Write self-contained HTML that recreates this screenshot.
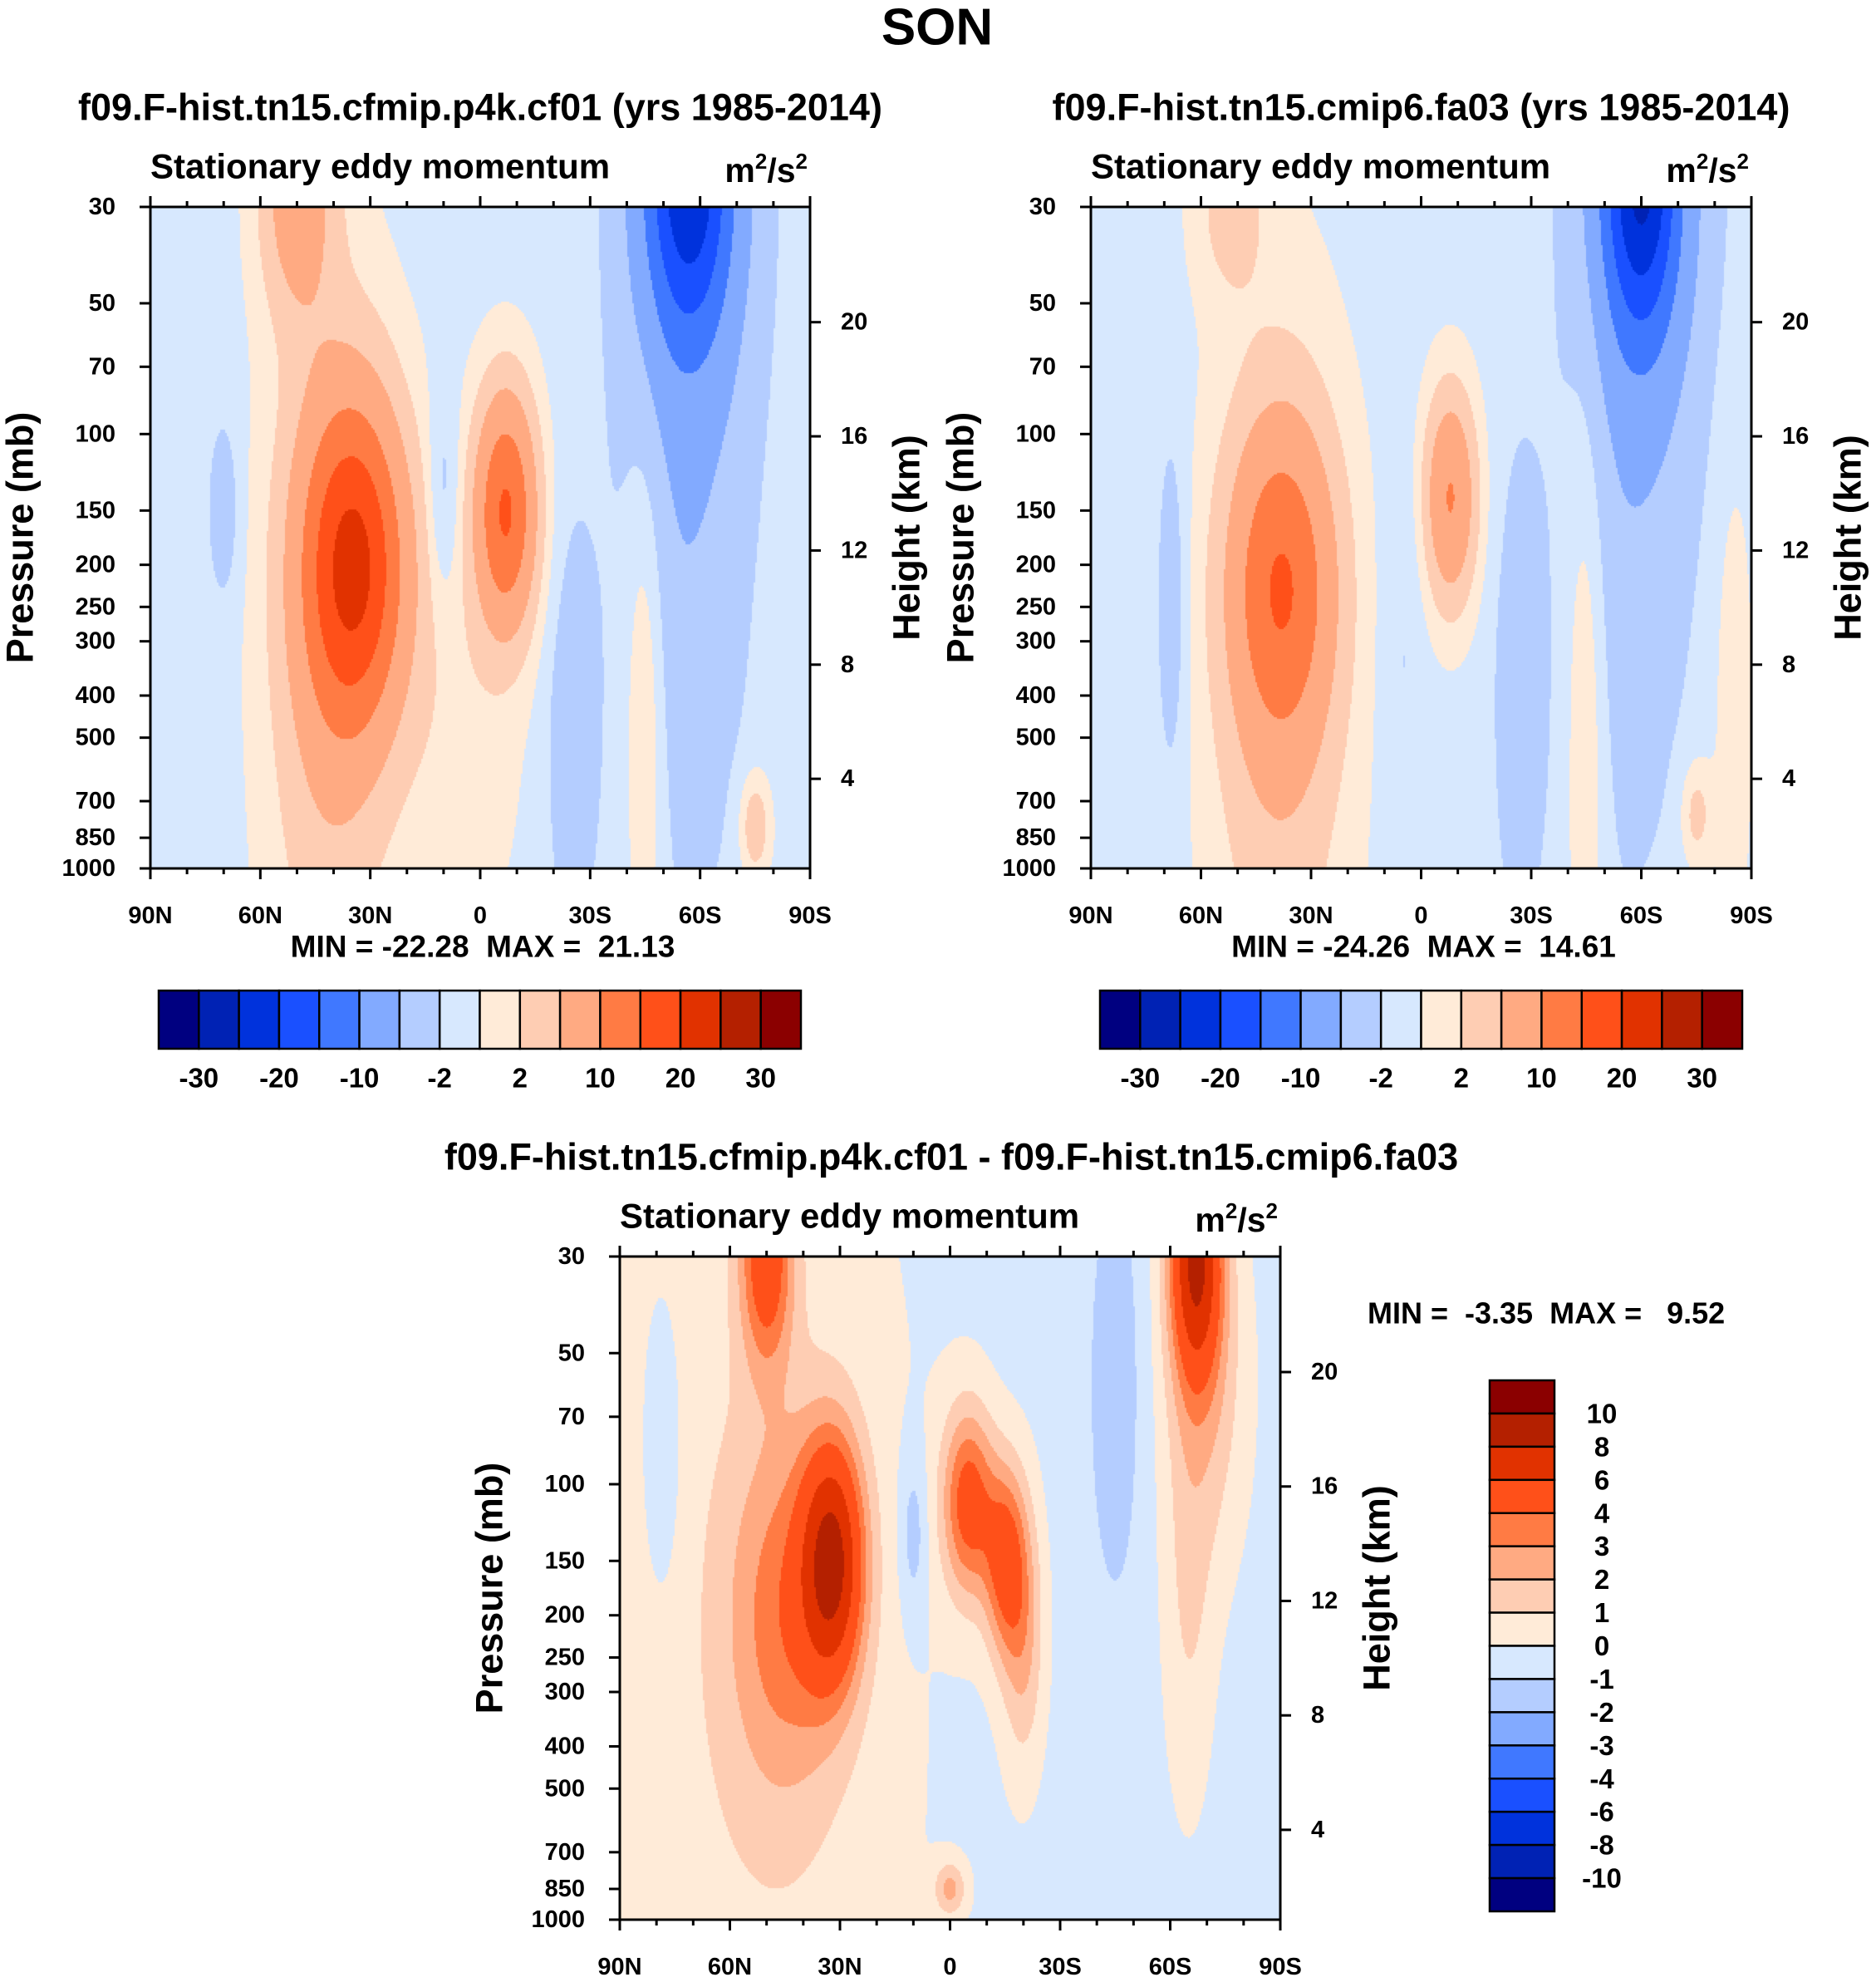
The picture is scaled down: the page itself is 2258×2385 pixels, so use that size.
<!DOCTYPE html>
<html><head><meta charset="utf-8">
<style>
html,body{margin:0;padding:0;background:#fff;}
#root{position:relative;width:2258px;height:2385px;overflow:hidden;font-family:"Liberation Sans",sans-serif;}
canvas{position:absolute;}
svg{position:absolute;left:0;top:0;}
text{font-family:"Liberation Sans",sans-serif;font-weight:bold;fill:#000;white-space:pre;}
</style></head>
<body>
<div id="root">
<canvas id="c1"></canvas>
<canvas id="c2"></canvas>
<canvas id="c3"></canvas>
<svg id="ov" width="2258" height="2385"></svg>
</div>
<script>
// ---- color levels ----
const colors = ["#000080","#0022b4","#0032dc","#1a50ff","#4078ff","#82aaff","#b4cdff","#d7e8fe","#ffebd8","#fecdb3","#ffaa82","#ff7b44","#ff5019","#e13200","#b42000","#8b0000"];
const levelsAbs = [-30,-25,-20,-15,-10,-5,-2,0,2,5,10,15,20,25,30];
const levelsDiff = [-10,-8,-6,-4,-3,-2,-1,0,1,2,3,4,6,8,10];
const absLabels = ["-30","-20","-10","-2","2","10","20","30"];
const absLabelIdx = [0,2,4,6,8,10,12,14];
const diffLabels = ["10","8","6","4","3","2","1","0","-1","-2","-3","-4","-6","-8","-10"];
const latTicks = [90,60,30,0,-30,-60,-90];
const latTickLabels = ["90N","60N","30N","0","30S","60S","90S"];
const presTicks = [30,50,70,100,150,200,250,300,400,500,700,850,1000];
const heightTicks = [4,8,12,16,20];

// ---- field blobs: panel 1 (cfmip p4k) ----
const p1Base = -0.8;
const p1Lat  = [34, 50, 42, 40, 70, -7, 5, -57, -57, -55, -25, -45, -75, 10];
const p1Pres = [200, 28, 300, 600, 150, 150, 500, 25, 25, 300, 500, 400, 800, 140];
const p1Amp  = [19, 8, 4, 1.5, -3, 16, 2, -18, -6, -2.5, -3, 4, 5, -3];
const p1WLat = [10, 7, 11, 14, 3, 6, 12, 8, 13, 12, 5, 4, 3, 3];
const p1WLnP = [0.62, 0.45, 1.3, 2, 0.35, 0.45, 0.8, 0.6, 1.3, 1.2, 0.8, 1.0, 0.2, 0.4];
// ---- panel 2 (cmip6 fa03) ----
const p2Base = -0.8;
const p2Lat  = [38, 38, 52, 40, 68, -8, 5, -60, -60, -55, -27, -45, -75, -85];
const p2Pres = [220, 400, 30, 500, 250, 140, 300, 25, 25, 300, 400, 400, 750, 400];
const p2Amp  = [12, 3.5, 3.5, 1.5, -3, 11, -1.5, -20, -6, -2, -3, 3.5, 4, 2];
const p2WLat = [10, 12, 7, 16, 3, 5, 4, 7, 13, 12, 5, 4, 3, 4];
const p2WLnP = [0.6, 1.2, 0.35, 2, 0.7, 0.4, 0.8, 0.6, 1.3, 1.2, 0.9, 1.2, 0.2, 1];
// ---- panel 3 (difference) ----
const p3Base = -0.45;
const p3Lat  = [32, 45, 50, -5, -15, -20, -67, -70, -45, -65, 0, 55, 78, 10];
const p3Pres = [150, 200, 30, 110, 150, 220, 30, 60, 60, 200, 850, 300, 90, 130];
const p3Amp  = [7.5, 3, 5, 5, 4.5, 2.5, 8, 2, -1.3, 1.3, 2.5, 1.2, -0.9, -1.5];
const p3WLat = [6, 11, 5, 5, 4, 4, 5, 8, 5, 5, 3, 35, 4, 2.5];
const p3WLnP = [0.45, 0.7, 0.4, 0.35, 0.35, 0.5, 0.45, 0.7, 0.8, 0.8, 0.1, 3, 0.6, 0.3];

const LNR = Math.log(1000/30);
function makeY(top,h){return p=>top + h*Math.log(p/30)/LNR;}
function makeX(left,w){return lat=>left + w*(90-lat)/180;}

const panels = [
 {id:"c1",L:181,T:249,W:794,H:796,base:p1Base,lat:p1Lat,pr:p1Pres,amp:p1Amp,wl:p1WLat,wp:p1WLnP,lev:levelsAbs},
 {id:"c2",L:1313,T:249,W:795,H:796,base:p2Base,lat:p2Lat,pr:p2Pres,amp:p2Amp,wl:p2WLat,wp:p2WLnP,lev:levelsAbs},
 {id:"c3",L:746,T:1512,W:795,H:798,base:p3Base,lat:p3Lat,pr:p3Pres,amp:p3Amp,wl:p3WLat,wp:p3WLnP,lev:levelsDiff}
];
panels.forEach(P=>{
  const c=document.getElementById(P.id);
  c.width=P.W;c.height=P.H;c.style.left=P.L+"px";c.style.top=P.T+"px";
  const ctx=c.getContext("2d");const step=2;
  for(let py=0;py<P.H;py+=step){
    const lnp=Math.log(30)+LNR*(py+1)/P.H;
    for(let px=0;px<P.W;px+=step){
      const lat=90-180*(px+1)/P.W;
      let f=P.base;
      for(let k=0;k<P.lat.length;k++){
        const dl=(lat-P.lat[k])/P.wl[k], dp=(lnp-Math.log(P.pr[k]))/P.wp[k];
        f+=P.amp[k]*Math.exp(-0.5*(dl*dl+dp*dp));
      }
      let i=0;while(i<P.lev.length&&f>=P.lev[i])i++;
      ctx.fillStyle=colors[i];ctx.fillRect(px,py,step,step);
    }
  }
});

// ---- overlay ----
const svg=document.getElementById("ov");const NS="http://www.w3.org/2000/svg";
function el(tag,attrs,txt){const e=document.createElementNS(NS,tag);for(const k in attrs)e.setAttribute(k,attrs[k]);if(txt!==undefined)e.textContent=txt;svg.appendChild(e);return e;}
function txt(x,y,s,size,anchor,name,rot){const e=el("text",{x:x,y:y,"font-size":size,"text-anchor":anchor||"middle","dominant-baseline":"central"},s);if(rot)e.setAttribute("transform","rotate(-90 "+x+" "+y+")");


return e;}

txt(1128,33,"SON",62,"middle","figure-title");

function drawPanel(P,title,minmax){
  const X=makeX(P.L,P.W),Y=makeY(P.T,P.H);
  const fr=el("rect",{x:P.L,y:P.T,width:P.W,height:P.H,fill:"none",stroke:"#000","stroke-width":3});
  
  
  for(let lat=90;lat>=-90;lat-=10){
    const major=lat%30===0,len=major?13:7,x=X(lat);
    el("line",{x1:x,y1:P.T+P.H,x2:x,y2:P.T+P.H+len,stroke:"#000","stroke-width":3});
    el("line",{x1:x,y1:P.T,x2:x,y2:P.T-len,stroke:"#000","stroke-width":3});
  }
  latTicks.forEach((lat,i)=>{txt(X(lat),P.T+P.H+57,latTickLabels[i],29,"middle","x-tick-label");});
  presTicks.forEach(p=>{const y=Y(p);el("line",{x1:P.L,y1:y,x2:P.L-13,y2:y,stroke:"#000","stroke-width":3});
    txt(P.L-42,y,String(p),29,"end","y-tick-label");});
  heightTicks.forEach(z=>{const frac=((z-0.86)/6.61)/LNR;const y=P.T+P.H-frac*P.H;
    el("line",{x1:P.L+P.W,y1:y,x2:P.L+P.W+13,y2:y,stroke:"#000","stroke-width":3});
    txt(P.L+P.W+37,y,String(z),29,"start","height-tick-label");});
  txt(P.L-157,P.T+P.H/2,"Pressure (mb)",45,"middle","y-axis-title",true);
  txt(P.L+P.W+116,P.T+P.H/2,"Height (km)",45,"middle","height-axis-title",true);
  if(title) txt(P.L+P.W/2,P.T-120,title,45,"middle","panel-title");
  txt(P.L,P.T-49,"Stationary eddy momentum",42,"start","panel-subtitle");
  const u=el("text",{x:P.L+P.W-3,y:P.T-30,"font-size":41,"text-anchor":"end"});
  
  
  u.innerHTML='m<tspan dy="-16" font-size="26">2</tspan><tspan dy="16">/s</tspan><tspan dy="-16" font-size="26">2</tspan>';
  if(minmax) txt(P.L+P.W/2+3,P.T+P.H+94,minmax,37,"middle","min-max-label");
}
drawPanel(panels[0],"f09.F-hist.tn15.cfmip.p4k.cf01 (yrs 1985-2014)","MIN = -22.28  MAX =  21.13");
drawPanel(panels[1],"f09.F-hist.tn15.cmip6.fa03 (yrs 1985-2014)","MIN = -24.26  MAX =  14.61");
drawPanel({L:746,T:1512,W:795,H:798},"","");
txt(1145,1392,"f09.F-hist.tn15.cfmip.p4k.cf01 - f09.F-hist.tn15.cmip6.fa03",45,"middle","diff-panel-title");
txt(1646,1580,"MIN =  -3.35  MAX =   9.52",36,"start","diff-min-max-label");

function hbar(L,T,W,H){
  const bw=W/16;
  for(let i=0;i<16;i++){const r=el("rect",{x:L+i*bw,y:T,width:bw,height:H,fill:colors[i],stroke:"#000","stroke-width":2.5});
    
    }
  absLabelIdx.forEach((bi,j)=>{txt(L+(bi+1)*bw,T+H+35,absLabels[j],33,"middle","colorbar-label");});
}
hbar(191,1192,773,70);
hbar(1324,1192,773,70);
(function(){const L=1793,T=1661,W=78,H=639,bh=H/16;
  for(let i=0;i<16;i++){const r=el("rect",{x:L,y:T+i*bh,width:W,height:bh,fill:colors[15-i],stroke:"#000","stroke-width":2.5});
    
    }
  diffLabels.forEach((s,i)=>{txt(L+W+57,T+(i+1)*bh,s,33,"middle","colorbar-label");});
})();
</script>
</body></html>
